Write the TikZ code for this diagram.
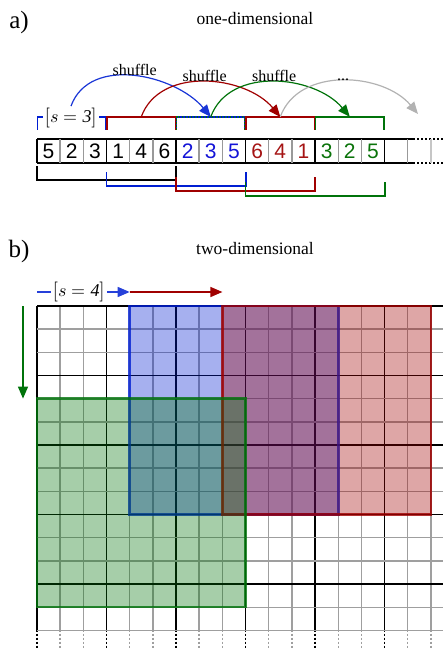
\documentclass[tikz,border=0pt]{standalone}
\usepackage{fontspec}
\usepackage{unicode-math}
\setmainfont{Liberation Serif}
\setmathfont{Latin Modern Math}
\newfontfamily\digitfont{Liberation Sans}
\usepackage{tikz}
\usetikzlibrary{arrows.meta,positioning}

\definecolor{winblue}{RGB}{0,30,210}
\definecolor{winred}{RGB}{160,0,0}
\definecolor{wingreen}{RGB}{0,115,10}
\definecolor{numblue}{RGB}{20,20,215}
\definecolor{numred}{RGB}{165,20,20}
\definecolor{numgreen}{RGB}{10,115,10}

\newcommand\cw{23.17}
% bracket above cells #1..#2
\newcommand\topbrk[3]{\draw[brk,#3] ([xshift=.8pt,yshift=9pt]c#1.north west) -- ++(0,-13) -| ([xshift=-.8pt,yshift=9pt]c#2.north east);}
% bracket below cells #1..#2, #4 = gap below the row
\newcommand\botbrk[4]{\draw[brk,#3] ([yshift=-#4pt]c#1.south west) -- ++(0,14) -| ([yshift=-#4pt]c#2.south east);}

\begin{document}
\begin{tikzpicture}[x=1pt,y=-1pt,
  title/.style={font=\fontsize{17.5}{20}\selectfont,inner sep=0pt},
  part/.style={font=\fontsize{25}{26}\selectfont,inner sep=0pt},
  cell/.style={font=\digitfont\fontsize{21}{22}\selectfont,inner sep=0pt,
    minimum width=\cw pt,minimum height=24pt},
  lbl/.style={font=\fontsize{16}{18}\selectfont,inner sep=1pt,text=black},
  stride/.style={fill=white,inner sep=1pt,font=\fontsize{18}{22}\selectfont,text=black},
  arr/.style={-{Triangle[length=12pt,width=10pt]},line width=1.2pt},
  brk/.style={line width=1.6pt},
  gridline/.style={line width=1.4pt},
  win/.style={line width=2.8pt,fill opacity=.35,draw opacity=.8}
]
\useasboundingbox (0,0) rectangle (443,650);

% a) one-dimensional
\node[part] (la) at (19,22) {a)};
\node[title] (ta) at (255,19) {one-dimensional};

\foreach \d/\c [count=\i from 0] in {5/black,2/black,3/black,1/black,4/black,6/black,
    2/numblue,3/numblue,5/numblue,6/numred,4/numred,1/numred,3/numgreen,2/numgreen,5/numgreen}
  \node[cell,text=\c] (c\i) at ({37+(\i+.5)*\cw},151) {\d};

\draw[gridline] (37,139) -- (413,139) (37,163) -- (413,163);
\draw[gridline,dash pattern=on 2pt off 2pt] (413,139) -- (443,139) (413,163) -- (443,163);
\foreach \k in {0,...,17}{
  \pgfmathsetmacro\gx{37+\k*\cw}
  \pgfmathtruncatemacro\m{mod(\k,3)}
  \ifnum\m=0 \def\gc{black}\else\def\gc{gray!80}\fi
  \ifnum\k=17 \def\gc{gray!45}\fi
  \draw[gridline,draw=\gc] (\gx,139) -- (\gx,163);
}

\topbrk{0}{2}{winblue}
\topbrk{3}{5}{winred}
\topbrk{6}{8}{winblue}
\draw[brk,wingreen,dash pattern=on 1.5pt off 1.5pt] ([xshift=.8pt,yshift=9pt]c6.north west) -- ++(0,-13) -| ([xshift=-.8pt,yshift=9pt]c8.north east);
\topbrk{9}{11}{winred}
\topbrk{12}{14}{wingreen}

\botbrk{0}{5}{black}{3}
\botbrk{3}{8}{winblue}{9}
\botbrk{6}{11}{winred}{14}
\botbrk{9}{14}{wingreen}{19}

\node[stride] (s3) at (71,118) {$\big[s=\mathit{3}\big]$};

\coordinate (b1) at ([yshift=22pt]c4.north);
\coordinate (b2) at ([yshift=22pt]c7.north);
\coordinate (b3) at ([yshift=22pt]c10.north);
\coordinate (b4) at ([yshift=22pt]c13.north);
\coordinate (b5) at (418,114);

\draw[arr,winblue!90!white] (s3.north) to[out=70,in=130] node[lbl,above=-1pt] (sh1) {shuffle} (b2);
\draw[arr,winred] (b1) to[out=70,in=130] node[lbl,above=-1pt] (sh2) {shuffle} (b3);
\draw[arr,wingreen] (b2) to[out=70,in=130] node[lbl,above=-1pt] (sh3) {shuffle} (b4);
\draw[arr,gray!60] (b3) to[out=70,in=130] node[lbl,above=-1pt] (sh4) {...} (b5);

% b) two-dimensional
\node[part] (lb) at (19,251) {b)};
\node[title] (tb) at (255,249) {two-dimensional};

\foreach \k in {0,...,17}{
  \pgfmathsetmacro\gx{37+\k*\cw}
  \pgfmathtruncatemacro\m{mod(\k,3)}
  \ifnum\m=0 \def\gc{black}\else\def\gc{gray!75}\fi
  \draw[gridline,draw=\gc] (\gx,306) -- (\gx,629.5);
  \draw[gridline,draw=\gc,dash pattern=on 2pt off 2pt] (\gx,629.5) -- (\gx,648);
}
\foreach \j in {0,...,14}{
  \pgfmathsetmacro\gy{306+\j*\cw}
  \pgfmathtruncatemacro\m{mod(\j,3)}
  \ifnum\m=0 \def\gc{black}\else\def\gc{gray!75}\fi
  \draw[gridline,draw=\gc] (37,\gy) -- (443,\gy);
}

\draw[win,winblue,fill=winblue] (129.7,306) rectangle (338.2,514.4);
\draw[win,winred,fill=winred] (222.4,306) rectangle (430.9,514.4);
\draw[win,wingreen,fill=wingreen] (37,398.6) rectangle (245.5,607);

\coordinate (o) at (37,292);
\coordinate (p1) at (129.7,292);
\coordinate (p2) at (222.4,292);
\node[stride] (s4) at (79,292) {$\big[s=\mathit{4}\big]$};
\draw[line width=1.4pt,winblue!85!white] (o) -- (s4.west);
\draw[arr,line width=1.4pt,winblue!85!white] (s4.east) -- (p1);
\draw[arr,line width=1.4pt,winred] (p1) -- (p2);

\coordinate (q0) at (23,306);
\coordinate (q1) at (23,398.6);
\draw[arr,line width=1.4pt,wingreen] (q0) -- (q1);
\end{tikzpicture}
\end{document}
